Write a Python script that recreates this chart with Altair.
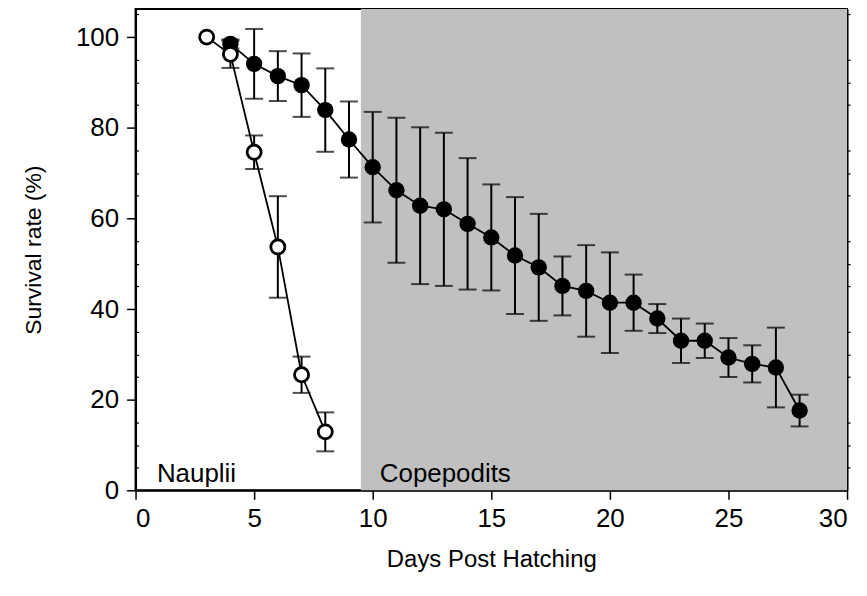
import altair as alt
import pandas as pd

# Filled series (days 4-28)
days_f = list(range(4, 29))
mean_f = [98.5, 94.1, 91.4, 89.4, 83.9, 77.4, 71.3, 66.2, 62.8, 62.0, 58.8, 55.8, 51.8,
          49.2, 45.1, 44.0, 41.4, 41.4, 37.9, 33.0, 33.0, 29.3, 27.9, 27.1, 17.6]
err_f = [1.0, 7.7, 5.5, 7.0, 9.2, 8.4, 12.2, 16.0, 17.3, 16.9, 14.5, 11.7, 12.9,
         11.8, 6.5, 10.1, 11.1, 6.2, 3.2, 4.9, 3.8, 4.3, 4.1, 8.8, 3.5]

# Open series (days 3-8)
days_o = [3, 4, 5, 6, 7, 8]
mean_o = [100.0, 96.2, 74.6, 53.7, 25.5, 12.9]
err_o = [0.0, 3.0, 3.7, 11.2, 4.0, 4.3]

# Shaded stage
stage_x = [9.5]
stage_x2 = [30]

labels = ["Nauplii", "Copepodits"]
label_x = [0.9, 10.3]
label_y = [1.8, 1.8]

x_ticks = [0, 5, 10, 15, 20, 25, 30]
y_ticks = [0, 20, 40, 60, 80, 100]
y_minor = [v for v in range(5, 106, 5) if v % 20 != 0]

Y_MAX = 106.2
W, H = 714, 483
FONT = "Liberation Sans"

df_f = pd.DataFrame({"day": days_f, "mean": mean_f, "err": err_f})
df_f["lo"] = df_f["mean"] - df_f["err"]
df_f["hi"] = df_f["mean"] + df_f["err"]
df_o = pd.DataFrame({"day": days_o, "mean": mean_o, "err": err_o})
df_o["lo"] = df_o["mean"] - df_o["err"]
df_o["hi"] = df_o["mean"] + df_o["err"]
df_rect = pd.DataFrame({"x": stage_x, "x2": stage_x2, "y": [0], "y2": [Y_MAX]})
df_txt = pd.DataFrame({"label": labels, "x": label_x, "y": label_y})

xs = alt.Scale(domain=[0, 30], nice=False, zero=False)
ys = alt.Scale(domain=[0, Y_MAX], nice=False, zero=False)

rect = alt.Chart(df_rect).mark_rect(color="#c0c0c0").encode(
    x=alt.X("x:Q", scale=xs, axis=alt.Axis(values=x_ticks, title="Days Post Hatching",
                                            titlePadding=16, labelPadding=6,
                                            titleFontSize=24)),
    x2="x2:Q",
    y=alt.Y("y:Q", scale=ys, axis=alt.Axis(values=y_ticks, title="Survival rate (%)",
                                            titlePadding=30, labelPadding=8,
                                            titleFontSize=23)),
    y2="y2:Q",
)

minor_left = alt.Chart(df_rect).mark_point(opacity=0).encode(
    x=alt.X("x:Q", scale=xs, axis=None),
    y=alt.Y("y:Q", scale=ys, axis=alt.Axis(values=y_minor, orient="left", offset=-3,
                                            tickSize=3, labels=False, domain=False,
                                            title=None, tickWidth=1.2)),
)
minor_right = alt.Chart(df_rect).mark_point(opacity=0).encode(
    x=alt.X("x:Q", scale=xs, axis=None),
    y=alt.Y("y:Q", scale=ys, axis=alt.Axis(values=y_minor, orient="right",
                                            tickSize=3, labels=False, domain=True,
                                            title=None, tickWidth=1.2)),
)


def series(df, filled):
    base = alt.Chart(df).encode(x=alt.X("day:Q", scale=xs, axis=None))
    line = base.mark_line(color="black", strokeWidth=1.8).encode(
        y=alt.Y("mean:Q", scale=ys, axis=None))
    e = base.transform_filter("datum.err > 0")
    rule = e.mark_rule(color="black", strokeWidth=2).encode(
        y=alt.Y("lo:Q", scale=ys, axis=None), y2="hi:Q")
    cap_lo = e.mark_tick(color="black", orient="horizontal", size=18, thickness=2).encode(
        y=alt.Y("lo:Q", scale=ys, axis=None))
    cap_hi = e.mark_tick(color="black", orient="horizontal", size=18, thickness=2).encode(
        y=alt.Y("hi:Q", scale=ys, axis=None))
    if filled:
        pts = base.mark_point(shape="circle", filled=True, color="black", size=270,
                              opacity=1).encode(y=alt.Y("mean:Q", scale=ys, axis=None))
    else:
        pts = base.mark_point(shape="circle", filled=True, fill="white", stroke="black",
                              strokeWidth=2.8, size=200, opacity=1).encode(
            y=alt.Y("mean:Q", scale=ys, axis=None))
    return [line, rule, cap_lo, cap_hi, pts]


txt = alt.Chart(df_txt).mark_text(align="left", baseline="alphabetic", font=FONT,
                                  fontSize=26, color="black").encode(
    x=alt.X("x:Q", scale=xs, axis=None),
    y=alt.Y("y:Q", scale=ys, axis=None),
    text="label:N",
)

chart = alt.layer(
    rect, minor_left, minor_right, *series(df_f, True), *series(df_o, False), txt
).resolve_axis(y="independent", x="independent").properties(
    width=W, height=H,
    autosize=alt.AutoSizeParams(type="none"),
    padding={"left": 128, "top": 0, "right": 12, "bottom": 96},
).configure_view(
    stroke="black", strokeWidth=2
).configure_axis(
    domainColor="black", domainWidth=2, tickColor="black", tickWidth=1.5, tickSize=9,
    labelFont=FONT, labelFontSize=26, labelColor="black", titleFont=FONT,
    titleColor="black", titleFontWeight="normal", grid=False,
)

chart.save("out.html", embed_options={"renderer": "svg", "actions": False})
